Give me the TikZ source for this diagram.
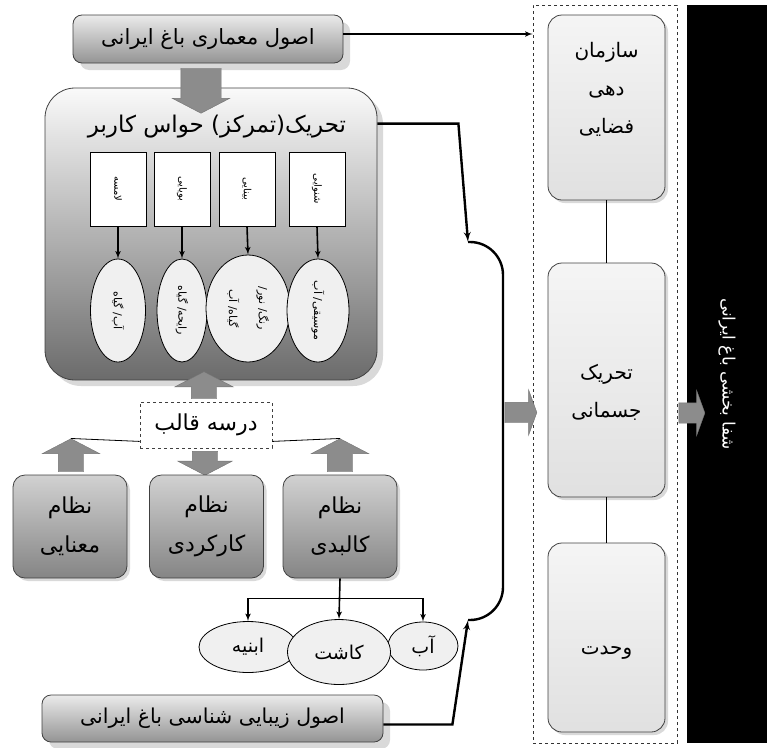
\documentclass[tikz,border=0pt]{standalone}
\usepackage{fontspec}
\usepackage{tikz}
\usetikzlibrary{arrows}
\usetikzlibrary{shapes.geometric}
\usetikzlibrary{shapes.arrows}
\usetikzlibrary{shadows}
\TeXXeTstate=1
\newfontfamily\farsi[Script=Arabic]{DejaVu Sans}
\newcommand{\fatext}[1]{\farsi\beginR #1\endR}
\tikzset{
    framebox/.style = {align=center, inner sep=0pt, draw=black!75, thick},
    headbox/.style = {framebox, rounded corners=9pt, top color=black!8, bottom color=black!42,
        drop shadow={opacity=0.3, shadow xshift=7pt, shadow yshift=-7pt}},
    sensebox/.style = {framebox, rounded corners=30pt, top color=black!2, bottom color=black!58,
        drop shadow={opacity=0.3, shadow xshift=6pt, shadow yshift=-6pt}},
    sense/.style = {framebox, fill=white, draw=black, rotate=-90, minimum width=74pt,
        minimum height=56pt, font=\fontsize{10}{12}\selectfont},
    feel/.style = {framebox, ellipse, fill=black!6, draw=black, rotate=-90,
        font=\fontsize{11}{16}\selectfont},
    grayarrow/.style = {single arrow, draw=black!55, fill=black!45, inner xsep=0pt,
        single arrow tip angle=125},
    system/.style = {framebox, rounded corners=12pt, top color=black!18, bottom color=black!48,
        minimum width=114pt, minimum height=103pt, font=\fontsize{22}{39}\selectfont,
        drop shadow={opacity=0.3, shadow xshift=3pt, shadow yshift=-3pt}},
    part/.style = {framebox, ellipse, fill=black!6, draw=black, font=\fontsize{19}{21}\selectfont},
    goal/.style = {framebox, rounded corners=14pt, top color=black!4, bottom color=black!12,
        minimum width=117pt, drop shadow={opacity=0.3, shadow xshift=3pt, shadow yshift=-3pt}},
    goaltext/.style = {align=center, font=\fontsize{20}{38}\selectfont},
    link/.style = {line width=1.6pt},
    thicklink/.style = {line width=2.4pt}
}
\begin{document}
\begin{tikzpicture}[x=1pt, y=-1pt, >=latex']
\useasboundingbox (0,0) rectangle (767,747);

% left column
\node[headbox, minimum width=270pt, minimum height=48pt, font=\fontsize{21}{24}\selectfont] (arch) at (208,39) {\fatext{اصول معماری باغ ایرانی}};
\node[sensebox, minimum width=332pt, minimum height=292pt] (senses) at (211,234) {};
\node[grayarrow, rotate=-90, minimum height=45pt, inner ysep=20pt, single arrow head extend=8.5pt] (down1) at (201,85.5) {};
\node[font=\fontsize{23}{26}\selectfont] (sensetitle) at (217,127) {\fatext{تحریک(تمرکز) حواس کاربر}};

\foreach \x/\s [count=\i] in {118/لامسه, 182/بویایی, 247/بینایی, 317/شنوایی}
    \node[sense] (sb\i) at (\x,189) {\fatext{\s}};

\node[feel, minimum width=103pt, minimum height=55pt] (fe1) at (118,310.5) {\fatext{آب/ گیاه}};
\node[feel, minimum width=103pt, minimum height=50pt] (fe2) at (182,310.5) {\fatext{رایحه/ گیاه}};
\node[feel, minimum width=107pt, minimum height=84pt, font=\fontsize{11}{30}\selectfont] (fe3) at (248,308.5) {\fatext{رنگ/ نور/}\\ \fatext{گیاه/ آب}};
\node[feel, minimum width=103pt, minimum height=62pt] (fe4) at (318,310.5) {\fatext{موسیقی/ آب}};
\foreach \i in {1,...,4}
    \draw[->, link] (sb\i.east) -- (fe\i.west);

% pattern and systems
\node[grayarrow, rotate=90, minimum height=27pt, inner ysep=12.5pt, single arrow head extend=16.5pt] (up1) at (204,388.5) {};
\node[framebox, dashed, fill=white, minimum width=132pt, minimum height=46pt, font=\fontsize{22}{25}\selectfont] (mould) at (206,425) {\fatext{درسه قالب}};
\node[grayarrow, rotate=-90, minimum height=24pt, inner ysep=12.5pt, single arrow head extend=14.5pt] (down2) at (205,460) {};
\node[grayarrow, rotate=90, minimum height=33pt, inner ysep=12.5pt, single arrow head extend=16pt] (upl) at (71,458.5) {};
\node[grayarrow, rotate=90, minimum height=33pt, inner ysep=12.5pt, single arrow head extend=16pt] (upr) at (340,458.5) {};
\draw[thick] ([yshift=7pt]mould.south west) -- (upl.tip);
\draw[thick] ([yshift=7pt]mould.south east) -- (upr.tip);

\node[system] (meaning) at (70,526.5) {\fatext{نظام}\\ \fatext{معنایی}};
\node[system] (function) at (206.5,526.5) {\fatext{نظام}\\ \fatext{کارکردی}};
\node[system] (body) at (340,526.5) {\fatext{نظام}\\ \fatext{کالبدی}};

\node[part, minimum width=98pt, minimum height=51pt] (build) at (248,647) {\fatext{ابنیه}};
\node[part, minimum width=70pt, minimum height=48pt] (water) at (423,646) {\fatext{آب}};
\node[part, minimum width=103pt, minimum height=65pt] (plant) at (339,652) {\fatext{کاشت}};
\coordinate (fork) at ([yshift=-20pt]body.south);
\draw[->, link] (body.south) -- (plant.north);
\draw[->, link] (fork) -| (build.north);
\draw[->, link] (fork) -| (water.north);

\node[headbox, minimum width=341pt, minimum height=47pt, font=\fontsize{20.5}{23}\selectfont] (beauty) at (212.5,718.5) {\fatext{اصول زیبایی شناسی باغ ایرانی}};

% bracket
\coordinate (btop) at (468,242);
\coordinate (bbot) at (468,620);
\draw[thicklink, rounded corners=33pt] (btop) -- (503,242) -- (503,620) -- (bbot);
\draw[->, thicklink] ([yshift=-36pt]senses.north east) -- ++(81,0) -- (btop);
\draw[->, thicklink] ([yshift=-6pt]beauty.east) -- ++(69,0) -- (bbot);

% right column
\node[draw=black!80, dashed, thick, minimum width=144pt, minimum height=738pt] (frame) at (605,374) {};
\draw[->, link] ([yshift=5pt]arch.east) -- ([yshift=5pt]arch.east -| frame.west);
\node[grayarrow, single arrow tip angle=140, minimum height=32pt, inner ysep=10pt, single arrow head extend=12.5pt] (toframe) at (519,412.5) {};

\node[goal, minimum height=185pt] (space) at (606.5,107.5) {};
\node[goal, minimum height=234pt] (motion) at (606.5,380) {};
\node[goal, minimum height=189pt] (unity) at (606.5,637.5) {};
\draw[thick] (space) -- (motion);
\draw[thick] (motion) -- (unity);
\node[goaltext] (spacet) at ([yshift=18pt]space.center) {\fatext{سازمان}\\ \fatext{دهی}\\ \fatext{فضایی}};
\node[goaltext] (motiont) at ([yshift=-12pt]motion.center) {\fatext{تحریک}\\ \fatext{جسمانی}};
\node[goaltext] (unityt) at ([yshift=-15pt]unity.center) {\fatext{وحدت}};

\node[fill=black, text=white, rotate=-90, minimum width=738pt, minimum height=80pt, font=\fontsize{17}{20}\selectfont] (heal) at (727,374) {\fatext{شفا بخشی باغ ایرانی}};
\node[grayarrow, single arrow tip angle=140, minimum height=26pt, inner ysep=10pt, single arrow head extend=12.5pt] (toheal) at (690,413) {};
\end{tikzpicture}
\end{document}
